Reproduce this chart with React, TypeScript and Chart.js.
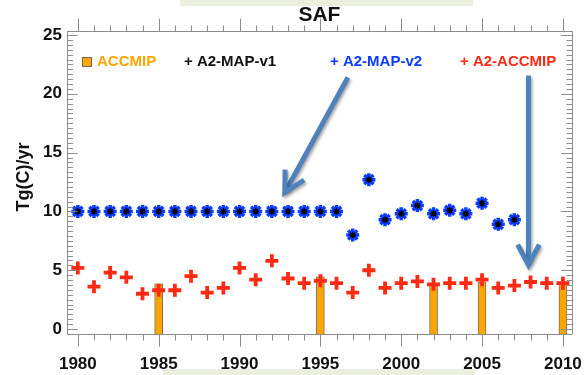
import React, { useEffect, useRef } from "react";
import { Chart, registerables } from "chart.js";

Chart.register(...registerables);

// ---------- data ----------
const years = [
  1980, 1981, 1982, 1983, 1984, 1985, 1986, 1987, 1988, 1989,
  1990, 1991, 1992, 1993, 1994, 1995, 1996, 1997, 1998, 1999,
  2000, 2001, 2002, 2003, 2004, 2005, 2006, 2007, 2008, 2009, 2010,
];
const a2AccmipValues = [
  5.2, 3.6, 4.8, 4.4, 3.0, 3.3, 3.3, 4.5, 3.1, 3.5,
  5.2, 4.2, 5.8, 4.3, 3.9, 4.1, 3.9, 3.1, 5.0, 3.5,
  3.9, 4.05, 3.8, 3.9, 3.9, 4.2, 3.5, 3.7, 4.0, 3.9, 3.9,
];
const mapYears = [
  1980, 1981, 1982, 1983, 1984, 1985, 1986, 1987, 1988, 1989,
  1990, 1991, 1992, 1993, 1994, 1995, 1996, 1997, 1998, 1999,
  2000, 2001, 2002, 2003, 2004, 2005, 2006, 2007,
];
const mapV2Values = [
  10, 10, 10, 10, 10, 10, 10, 10, 10, 10,
  10, 10, 10, 10, 10, 10, 10, 8.0, 12.7, 9.3,
  9.8, 10.5, 9.8, 10.1, 9.8, 10.7, 8.9, 9.3,
];
const mapV1Values = [
  10, 10, 10, 10, 10, 10, 10, 10, 10, 10,
  10, 10, 10, 10, 10, 10, 10, 8.0, 12.7, 9.3,
  9.8, 10.5, 9.8, 10.1, 9.8, 10.7, 8.9, 9.3,
];
const accmipYears = [1985, 1995, 2002, 2005, 2010];
const accmipValues = [3.85, 4.45, 3.75, 4.0, 3.85];

const xTickLabels = [1980, 1985, 1990, 1995, 2000, 2005, 2010];
const yTickLabels = [0, 5, 10, 15, 20, 25];

const legendLabels = ["ACCMIP", "+ A2-MAP-v1", "+ A2-MAP-v2", "+ A2-ACCMIP"];
const titleText = "SAF";
const yTitleText = "Tg(C)/yr";

// annotation arrows (data coordinates)
const arrowFromX = [1996.7, 2007.87];
const arrowFromY = [21.4, 21.55];
const arrowToX = [1992.8, 2007.87];
const arrowToY = [11.6, 5.45];

// ---------- styles ----------
const X_MIN = 1979.33;
const X_MAX = 2010.55;
const Y_MIN = -0.42;
const Y_MAX = 25.34;
const FONT = "'Liberation Sans', Arial, Helvetica, sans-serif";
const AXIS_COLOR = "#8c8c8c";
const ORANGE = "#ffa500";
const BLUE = "#0b3cff";
const RED = "#ff2a14";
const ARROW = "#4f81bd";
const legendColors = [ORANGE, "#111111", BLUE, RED];
const legendOffsets = [30, 117, 263, 393];

function drawArrow(ctx: CanvasRenderingContext2D, x1: number, y1: number, x2: number, y2: number) {
  const ang = Math.atan2(y1 - y2, x1 - x2);
  const head = 23;
  const spread = (28 * Math.PI) / 180;
  ctx.save();
  ctx.strokeStyle = ARROW;
  ctx.lineWidth = 5;
  ctx.lineCap = "butt";
  ctx.lineJoin = "miter";
  ctx.shadowColor = "rgba(0,0,0,0.35)";
  ctx.shadowBlur = 3;
  ctx.shadowOffsetX = 1.5;
  ctx.shadowOffsetY = 2;
  ctx.beginPath();
  ctx.moveTo(x1, y1);
  ctx.lineTo(x2 + Math.cos(ang) * 2, y2 + Math.sin(ang) * 2);
  ctx.stroke();
  ctx.beginPath();
  ctx.moveTo(x2 + Math.cos(ang + spread) * head, y2 + Math.sin(ang + spread) * head);
  ctx.lineTo(x2, y2);
  ctx.lineTo(x2 + Math.cos(ang - spread) * head, y2 + Math.sin(ang - spread) * head);
  ctx.stroke();
  ctx.restore();
}

const decorPlugin = {
  id: "decor",
  afterDraw(chart: any) {
    const { ctx, chartArea } = chart;
    const xs = chart.scales.x;
    const ys = chart.scales.y;
    const { left, right, top, bottom } = chartArea;
    ctx.save();
    // frame (top & right)
    ctx.strokeStyle = AXIS_COLOR;
    ctx.lineWidth = 1;
    ctx.beginPath();
    ctx.moveTo(Math.round(left) + 0.5, Math.round(top) + 0.5);
    ctx.lineTo(Math.round(right) + 0.5, Math.round(top) + 0.5);
    ctx.lineTo(Math.round(right) + 0.5, Math.round(bottom) + 0.5);
    ctx.stroke();
    // x ticks
    ctx.beginPath();
    for (let yr = Math.ceil(X_MIN); yr <= X_MAX; yr++) {
      const px = Math.round(xs.getPixelForValue(yr)) + 0.5;
      const major = yr % 5 === 0;
      ctx.moveTo(px, Math.round(bottom) + 0.5);
      ctx.lineTo(px, Math.round(bottom) + 0.5 + (major ? 12 : 6));
      ctx.moveTo(px, Math.round(top) + 0.5);
      ctx.lineTo(px, Math.round(top) + 0.5 - (major ? 13 : 6));
    }
    // y ticks
    const step = 5 / 12;
    for (let i = 0; i * step <= Y_MAX; i++) {
      const v = i * step;
      const py = Math.round(ys.getPixelForValue(v)) + 0.5;
      const major = i % 12 === 0;
      ctx.moveTo(Math.round(left) + 0.5, py);
      ctx.lineTo(Math.round(left) + 0.5 + (major ? 10 : 5.5), py);
      ctx.moveTo(Math.round(right) + 0.5, py);
      ctx.lineTo(Math.round(right) + 0.5 - (major ? 11.5 : 6), py);
    }
    ctx.stroke();

    // title
    ctx.fillStyle = "#111111";
    ctx.font = `bold 21px ${FONT}`;
    ctx.textAlign = "center";
    ctx.textBaseline = "middle";
    ctx.fillText(titleText, (left + right) / 2, 15);

    // y title
    ctx.save();
    ctx.translate(24, (ys.getPixelForValue(0) + ys.getPixelForValue(25)) / 2 - 5);
    ctx.rotate(-Math.PI / 2);
    ctx.font = `bold 18px ${FONT}`;
    ctx.fillText(yTitleText, 0, 0);
    ctx.restore();

    // legend
    ctx.font = `bold 15px ${FONT}`;
    ctx.textAlign = "left";
    ctx.textBaseline = "middle";
    const ly = 62;
    ctx.fillStyle = ORANGE;
    ctx.fillRect(left + 15.5, ly - 4.5, 9, 9);
    ctx.strokeStyle = "#7a6a50";
    ctx.strokeRect(left + 15.5, ly - 4.5, 9, 9);
    legendLabels.forEach((t, i) => {
      ctx.fillStyle = legendColors[i];
      ctx.fillText(t, left + legendOffsets[i], ly);
    });

    // arrows
    for (let i = 0; i < arrowFromX.length; i++) {
      drawArrow(
        ctx,
        xs.getPixelForValue(arrowFromX[i]),
        ys.getPixelForValue(arrowFromY[i]),
        xs.getPixelForValue(arrowToX[i]),
        ys.getPixelForValue(arrowToY[i])
      );
    }
    ctx.restore();
  },
};

export default function App() {
  const canvasRef = useRef<HTMLCanvasElement | null>(null);

  useEffect(() => {
    const canvas = canvasRef.current;
    if (!canvas) return;
    const chart = new Chart(canvas, {
      type: "scatter",
      data: {
        datasets: [
          {
            label: "A2-ACCMIP",
            order: 0,
            data: years.map((x, i) => ({ x, y: a2AccmipValues[i] })),
            pointStyle: "cross",
            pointRadius: 6.5,
            pointBorderWidth: 3.8,
            borderColor: RED,
            backgroundColor: RED,
            showLine: false,
          } as any,
          {
            label: "A2-MAP-v1",
            order: 1,
            data: mapYears.map((x, i) => ({ x, y: mapV1Values[i] })),
            pointStyle: "star",
            pointRadius: 3.2,
            pointBorderWidth: 1.5,
            borderColor: "#000000",
            backgroundColor: "#000000",
            showLine: false,
          } as any,
          {
            label: "A2-MAP-v2",
            order: 2,
            data: mapYears.map((x, i) => ({ x, y: mapV2Values[i] })),
            pointStyle: "star",
            pointRadius: 6.5,
            pointBorderWidth: 3.5,
            borderColor: BLUE,
            backgroundColor: BLUE,
            showLine: false,
          } as any,
          {
            type: "bar",
            label: "ACCMIP",
            order: 3,
            data: accmipYears.map((x, i) => ({ x, y: accmipValues[i] })),
            backgroundColor: ORANGE,
            borderColor: "#7a6f5c",
            borderWidth: 1,
            barThickness: 8,
            base: Y_MIN,
          } as any,
        ],
      },
      options: {
        responsive: false,
        animation: false,
        layout: { padding: { left: 0, right: 11, top: 31, bottom: 0 } },
        plugins: {
          legend: { display: false },
          tooltip: { enabled: false },
          title: { display: false },
        },
        scales: {
          x: {
            type: "linear",
            position: "bottom",
            min: X_MIN,
            max: X_MAX,
            offset: false,
            grid: {
              display: true,
              drawOnChartArea: false,
              drawTicks: true,
              tickLength: 15,
              color: "rgba(0,0,0,0)",
            },
            border: { display: true, color: AXIS_COLOR, width: 1 },
            ticks: {
              autoSkip: false,
              maxRotation: 0,
              padding: 5,
              color: "#111111",
              font: { family: FONT, size: 17, weight: "bold" },
              callback: (v: any) => String(v),
            },
            afterBuildTicks: (s: any) => {
              s.ticks = xTickLabels.map((v) => ({ value: v }));
            },
            afterFit: (s: any) => {
              s.height = 41;
            },
          },
          y: {
            type: "linear",
            min: Y_MIN,
            max: Y_MAX,
            grid: {
              display: true,
              drawOnChartArea: false,
              drawTicks: false,
              color: "rgba(0,0,0,0)",
            },
            border: { display: true, color: AXIS_COLOR, width: 1 },
            ticks: {
              padding: 5,
              color: "#111111",
              font: { family: FONT, size: 17, weight: "bold" },
              callback: (v: any) => String(v),
            },
            afterBuildTicks: (s: any) => {
              s.ticks = yTickLabels.map((v) => ({ value: v }));
            },
            afterFit: (s: any) => {
              s.width = 67;
            },
          },
        },
      } as any,
      plugins: [decorPlugin],
    });
    return () => chart.destroy();
  }, []);

  return (
    <div
      style={{
        position: "absolute",
        left: 0,
        top: 0,
        width: 587,
        height: 375,
        background: "#ffffff",
        overflow: "hidden",
      }}
    >
      <canvas ref={canvasRef} width={587} height={375} style={{ display: "block" }} />
      <div
        style={{
          position: "absolute",
          left: 180,
          top: 0,
          width: 293,
          height: 6,
          background: "rgb(235,239,224)",
        }}
      />
      <div
        style={{
          position: "absolute",
          left: 163,
          top: 369,
          width: 312,
          height: 6,
          background: "rgb(235,239,224)",
        }}
      />
    </div>
  );
}
